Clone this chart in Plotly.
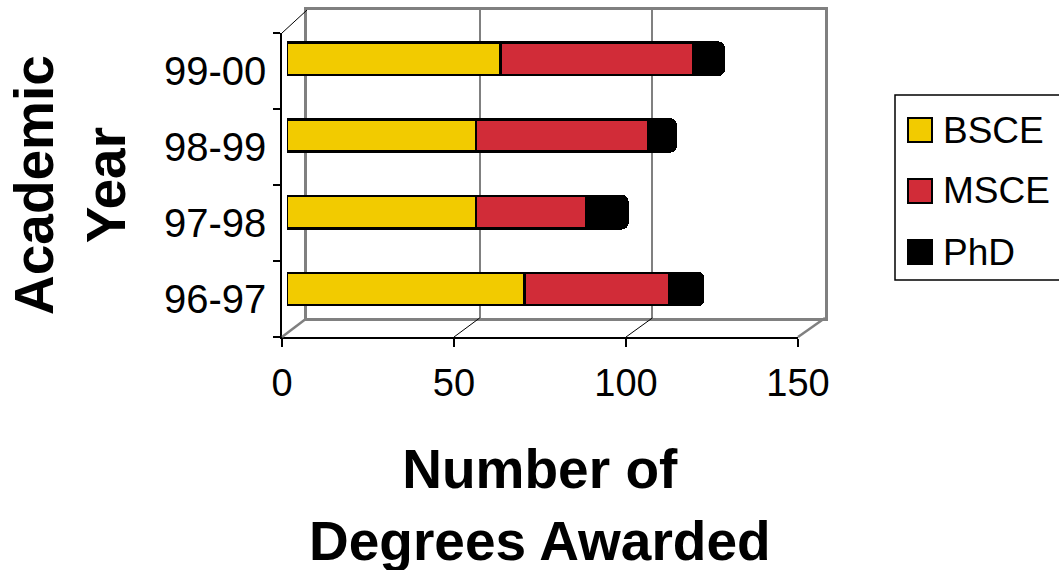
import plotly.graph_objects as go

# Degrees awarded per academic year, stacked by degree type
years = ["96-97", "97-98", "98-99", "99-00"]
bsce = [69, 55, 55, 62]
msce = [42, 32, 50, 56]
phd = [10, 12, 8, 9]

series_names = ["BSCE", "MSCE", "PhD"]
series_colors = ["#F2CB00", "#D12C38", "#000000"]

x_ticks = [0, 50, 100, 150]
x_max = 150

W, H = 1059, 570
FONT = "Liberation Sans, Arial, sans-serif"


def px_x(p):
    return p / W


def px_y(p):
    return 1 - p / H


# Frame geometry (pixels): front plane, back wall, and the bar plane in between
front_left, front_right, front_top, front_bottom = 282, 798, 33, 337
back_left, back_right, back_top, back_bottom = 307, 825, 10, 318
bar_left, bar_right, bar_top, bar_bottom = 287, 803, 20.3, 327.4

fig = go.Figure()

# Back wall: bordered plot area with vertical gridlines
fig.update_layout(
    xaxis=dict(domain=[px_x(back_left), px_x(back_right)], range=[0, x_max],
               anchor="y", showline=True, mirror=True, linecolor="#808080",
               linewidth=2.5, showgrid=True, gridcolor="#808080", gridwidth=1.5,
               tickvals=x_ticks, showticklabels=False, ticks="", zeroline=False,
               automargin=False, fixedrange=True),
    yaxis=dict(domain=[px_y(back_bottom), px_y(back_top)], range=[0, 1],
               anchor="x", showline=True, mirror=True, linecolor="#808080",
               linewidth=2.5, showgrid=False, showticklabels=False, ticks="",
               zeroline=False, automargin=False, fixedrange=True),
)
fig.add_trace(go.Scatter(x=[0, x_max], y=[0, 1], mode="markers",
                         marker=dict(opacity=0), hoverinfo="skip",
                         showlegend=False, xaxis="x", yaxis="y"))

# Front axes: value scale along the floor edge and year categories on the left edge
fig.update_layout(
    xaxis2=dict(domain=[px_x(front_left), px_x(front_right)], range=[0, x_max],
                anchor="y2", showline=True, linecolor="black", linewidth=1.5,
                showgrid=False, zeroline=False, tickvals=x_ticks,
                ticks="outside", ticklen=8, tickwidth=1.5, tickcolor="black",
                ticklabelstandoff=4,
                tickfont=dict(family=FONT, size=38, color="black"),
                automargin=False, fixedrange=True),
    yaxis2=dict(domain=[px_y(front_bottom), px_y(front_top)], type="category",
                categoryorder="array", categoryarray=years, range=[-0.5, 3.5],
                anchor="x2", showline=True, linecolor="black", linewidth=1.5,
                showgrid=False, zeroline=False, ticks="outside",
                tickson="boundaries", ticklen=7, tickwidth=1.5,
                tickcolor="black", ticklabelstandoff=6,
                tickfont=dict(family=FONT, size=40, color="black"),
                automargin=False, fixedrange=True),
)
fig.add_trace(go.Scatter(x=bsce, y=years, mode="markers",
                         marker=dict(opacity=0), hoverinfo="skip",
                         showlegend=False, xaxis="x2", yaxis="y2"))

# Stacked bars, drawn last so they sit in front of the back wall
fig.update_layout(
    xaxis3=dict(domain=[px_x(bar_left), px_x(bar_right)], range=[0, x_max],
                anchor="y3", visible=False, automargin=False, fixedrange=True),
    yaxis3=dict(domain=[px_y(bar_bottom), px_y(bar_top)], type="category",
                categoryorder="array", categoryarray=years, range=[-0.5, 3.5],
                anchor="x3", visible=False, automargin=False, fixedrange=True),
)
for name, vals, color in zip(series_names, [bsce, msce, phd], series_colors):
    fig.add_trace(go.Bar(
        y=years, x=vals, name=name, orientation="h",
        marker=dict(color=color, line=dict(color="black", width=2.5)),
        xaxis="x3", yaxis="y3", showlegend=False,
    ))

# Floor and side edges of the frame, joining the front plane to the back wall
def front_px(v):
    return front_left + v * (front_right - front_left) / x_max


def back_px(v):
    return back_left + v * (back_right - back_left) / x_max


shapes = []
for v in x_ticks:
    edge = v in (0, x_max)
    shapes.append(dict(
        type="line", xref="paper", yref="paper",
        x0=px_x(front_px(v)), y0=px_y(front_bottom),
        x1=px_x(back_px(v)), y1=px_y(back_bottom),
        line=dict(color="#808080" if edge else "black", width=2.5 if edge else 1),
    ))
shapes.append(dict(
    type="line", xref="paper", yref="paper",
    x0=px_x(front_left), y0=px_y(front_top),
    x1=px_x(back_left), y1=px_y(back_top),
    line=dict(color="black", width=1),
))

# Legend box with a swatch and label per series
legend_left, legend_top, legend_bottom = 895, 95, 280
row_centers = [130, 191, 252]
shapes.append(dict(
    type="rect", xref="paper", yref="paper",
    x0=px_x(legend_left), x1=px_x(W + 20),
    y0=px_y(legend_bottom), y1=px_y(legend_top),
    line=dict(color="black", width=1.5), fillcolor="white",
))
annotations = []
for name, color, cy in zip(series_names, series_colors, row_centers):
    shapes.append(dict(
        type="rect", xref="paper", yref="paper",
        x0=px_x(908), x1=px_x(932), y0=px_y(cy + 12), y1=px_y(cy - 12),
        line=dict(color="black", width=2), fillcolor=color,
    ))
    annotations.append(dict(
        text=name, xref="paper", yref="paper", x=px_x(941), y=px_y(cy),
        xanchor="left", yanchor="middle", showarrow=False,
        font=dict(family=FONT, size=37, color="black"),
    ))

annotations += [
    dict(text="<b>Academic<br>Year</b>", xref="paper", yref="paper",
         x=px_x(70), y=px_y(185), xanchor="center", yanchor="middle",
         textangle=-90, showarrow=False,
         font=dict(family=FONT, size=55, color="black")),
    dict(text="<b>Number of<br>Degrees Awarded</b>", xref="paper", yref="paper",
         x=px_x(540), y=px_y(505), xanchor="center", yanchor="middle",
         showarrow=False,
         font=dict(family=FONT, size=55, color="black")),
]

fig.update_layout(
    width=W, height=H,
    margin=dict(l=0, r=0, t=0, b=0, autoexpand=False),
    paper_bgcolor="white", plot_bgcolor="rgba(0,0,0,0)",
    barmode="stack", bargap=0.58, barcornerradius=6,
    shapes=shapes,
    annotations=annotations,
    showlegend=False,
)

fig.write_html("out.html")
